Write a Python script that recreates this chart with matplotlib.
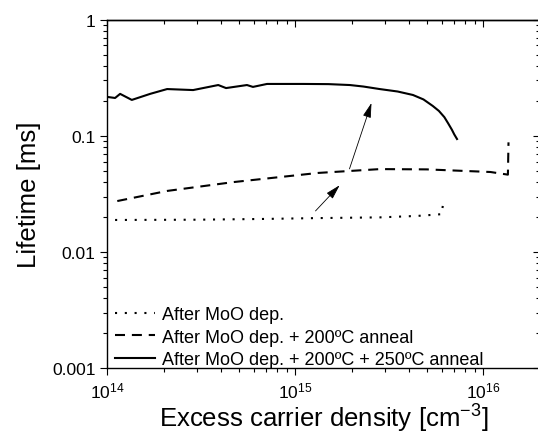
import matplotlib
matplotlib.use("Agg")
import matplotlib.pyplot as plt
from matplotlib.ticker import LogLocator, FuncFormatter, NullFormatter

plt.rcParams['font.family'] = ['Liberation Sans', 'DejaVu Sans']
plt.rcParams['mathtext.fontset'] = 'custom'
plt.rcParams['mathtext.rm'] = 'Liberation Sans'

# After MoO dep.
n_dep = [1.10e14, 3.0e14, 7.0e14, 1.25e15, 2.82e15, 4.5e15, 6.0e15, 6.05e15, 6.1e15]
tau_dep = [0.0189, 0.0190, 0.0193, 0.0196, 0.0199, 0.0205, 0.0212, 0.0235, 0.0259]

# After MoO dep. + 200C anneal
n_200 = [1.13e14, 2.08e14, 4.66e14, 1.32e15, 2.82e15, 5.0e15, 1.09e16, 1.35e16, 1.36e16]
tau_200 = [0.0275, 0.0336, 0.040, 0.048, 0.0518, 0.0515, 0.0489, 0.0464, 0.088]

# After MoO dep. + 200C + 250C anneal
n_250 = [1.01e14, 1.10e14, 1.17e14, 1.35e14, 1.69e14, 2.08e14, 2.86e14, 3.89e14,
         4.28e14, 5.53e14, 5.95e14, 7.07e14, 8.30e14, 1.10e15, 1.5e15, 1.95e15,
         2.3e15, 2.81e15, 3.5e15, 4.22e15, 4.8e15, 5.38e15, 5.8e15, 6.2e15,
         6.5e15, 6.8e15, 7.0e15, 7.24e15]
tau_250 = [0.216, 0.212, 0.230, 0.204, 0.230, 0.253, 0.248, 0.274,
           0.258, 0.274, 0.264, 0.280, 0.280, 0.280, 0.279, 0.274,
           0.266, 0.253, 0.241, 0.225, 0.206, 0.181, 0.164, 0.145,
           0.128, 0.113, 0.103, 0.094]

labels = ["After MoO dep.",
          "After MoO dep. + 200ºC anneal",
          "After MoO dep. + 200ºC + 250ºC anneal"]

fig = plt.figure(figsize=(5.38, 4.35), dpi=100)
ax = fig.add_axes([107.3 / 538, 1 - 369.3 / 435, (540 - 107.3) / 538, (369.3 - 20.7) / 435])

ax.plot(n_dep, tau_dep, color="black", lw=1.5, dashes=(1, 3.7), label=labels[0])
ax.plot(n_200, tau_200, color="black", lw=1.5, dashes=(4.8, 3.3), label=labels[1])
ax.plot(n_250, tau_250, color="black", lw=1.5, label=labels[2])

# arrows
arrow = dict(arrowstyle="-|>,head_length=0.9,head_width=0.25", color="black", lw=0.6,
             shrinkA=0, shrinkB=0)
ax.annotate("", xy=(2.54e15, 0.192), xytext=(1.94e15, 0.052), arrowprops=arrow)
ax.annotate("", xy=(1.72e15, 0.0376), xytext=(1.28e15, 0.0226), arrowprops=arrow)

ax.set_xscale("log")
ax.set_yscale("log")
ax.set_xlim(1e14, 2e16)
ax.set_ylim(0.001, 1)

ax.xaxis.set_major_locator(LogLocator(base=10, numticks=10))
ax.xaxis.set_minor_locator(LogLocator(base=10, subs=range(2, 10), numticks=20))
ax.yaxis.set_major_locator(LogLocator(base=10, numticks=10))
ax.yaxis.set_minor_locator(LogLocator(base=10, subs=range(2, 10), numticks=20))
ax.yaxis.set_major_formatter(FuncFormatter(lambda v, p: "%g" % v))
ax.xaxis.set_minor_formatter(NullFormatter())
ax.yaxis.set_minor_formatter(NullFormatter())

ax.tick_params(which="major", direction="out", length=5, width=0.8, labelsize=12.5)
ax.tick_params(which="minor", direction="out", length=3, width=0.8)
for s in ax.spines.values():
    s.set_linewidth(1.0)

# mirrored ticks pointing inwards on top and right
top = ax.secondary_xaxis("top")
top.xaxis.set_major_locator(LogLocator(base=10, numticks=10))
top.xaxis.set_minor_locator(LogLocator(base=10, subs=range(2, 10), numticks=20))
top.tick_params(which="major", direction="in", length=5, width=0.8, labeltop=False)
top.tick_params(which="minor", direction="in", length=3, width=0.8)
top.spines["top"].set_linewidth(1.0)
right = ax.secondary_yaxis("right")
right.yaxis.set_major_locator(LogLocator(base=10, numticks=10))
right.yaxis.set_minor_locator(LogLocator(base=10, subs=range(2, 10), numticks=20))
right.tick_params(which="major", direction="in", length=5, width=0.8, labelright=False)
right.tick_params(which="minor", direction="in", length=3, width=0.8)

ax.set_xlabel("Excess carrier density [cm$^{-3}$]", fontsize=18.5, labelpad=0)
ax.set_ylabel("Lifetime [ms]", fontsize=18.5, labelpad=8)

ax.legend(loc="lower left", bbox_to_anchor=(0.01, -0.01), frameon=False, fontsize=13,
          handlelength=2.2, handletextpad=0.4, labelspacing=0.3, borderaxespad=0.0,
          borderpad=0.2)

fig.savefig("out.png", dpi=100)
